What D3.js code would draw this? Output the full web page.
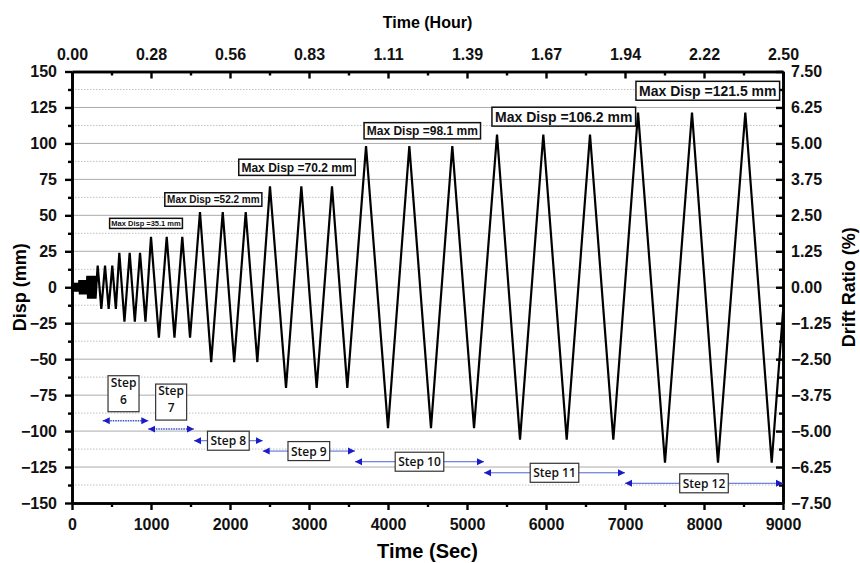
<!DOCTYPE html>
<html>
<head>
<meta charset="utf-8">
<script src="https://cdn.jsdelivr.net/npm/d3@7"></script>
<style>
  body { margin: 0; background: #fff; }
  svg { display: block; }
  .tick text { font-family: "Liberation Sans", Arial, sans-serif; font-weight: bold; font-size: 16px; fill: #111; }
</style>
</head>
<body>
<div id="chart"></div>
<script>
// Vertices of the displacement history (time in s, disp in mm)
const cycleSec = [0, 3, 8, 14, 19, 25, 30, 36, 41, 47, 52, 58, 63, 69, 74, 80, 85,
  93, 100, 107, 114, 121, 128, 135, 142, 149, 156, 163, 170, 177, 184,
  194, 203, 213, 222, 232, 241, 251, 260, 270, 279, 289, 298,
  325, 371, 418, 464, 510, 555,
  599, 664, 730, 795, 861, 930,
  1000, 1100, 1199, 1297, 1396, 1494,
  1620, 1762, 1908, 2053, 2199, 2346,
  2506, 2709, 2903, 3097, 3291, 3485,
  3722, 4000, 4270, 4544, 4814, 5089,
  5380, 5671, 5966, 6262, 6557, 6852,
  7165, 7506, 7848, 8177, 8523, 8857,
  9000];
const cycleDisp = [0, 3, -3, 3, -3, 3, -3, 3, -3, 3, -3, 3, -3, 3, -3, 3, -3,
  5, -5, 5, -5, 5, -5, 5, -5, 5, -5, 5, -5, 5, -5,
  8, -8, 8, -8, 8, -8, 8, -8, 8, -8, 8, -8,
  15, -15, 15, -15, 15, -15,
  24, -24, 24, -24, 24, -24,
  35.1, -35, 35.1, -35, 35.1, -35,
  52.2, -52, 52.2, -52, 52.2, -52,
  70.2, -70, 70.2, -70, 70.2, -70,
  98.1, -98, 98.1, -98, 98.1, -98,
  106.2, -106, 106.2, -106, 106.2, -106,
  121.5, -122, 121.5, -122, 121.5, -122,
  -17];

// Max displacement labels
const maxValues = ["35.1", "52.2", "70.2", "98.1", "106.2", "121.5"];
const maxAtSec = [937, 1789, 2848, 4434, 6225, 8048];
const maxAtDisp = [44.4, 61, 83.4, 108.8, 118.6, 136.6];

// Loading steps
const stepNames = ["6", "7", "8", "9", "10", "11", "12"];
const stepStart = [389, 966, 1544, 2414, 3582, 5215, 7000];
const stepEnd = [966, 1544, 2414, 3582, 5215, 7000, 9000];
const stepLevel = [-92.8, -98.6, -106.7, -113.9, -121.3, -129, -136.3];

// Axis ticks
const secTicks = d3.range(0, 9001, 1000);
const dispTicks = d3.range(-150, 151, 25);
const driftTicks = d3.range(-7.5, 7.51, 1.25);

const width = 860, height = 563;
const margin = {top: 71.5, right: 77, bottom: 60, left: 72};
const plotW = width - margin.left - margin.right;
const plotH = height - margin.top - margin.bottom;

const svg = d3.select("#chart").append("svg")
  .attr("width", width).attr("height", height);

const g = svg.append("g").attr("transform", `translate(${margin.left},${margin.top})`);

const x = d3.scaleLinear().domain([0, 9000]).range([0, plotW]);
const xHour = d3.scaleLinear().domain([0, 2.5]).range([0, plotW]);
const y = d3.scaleLinear().domain([-150, 150]).range([plotH, 0]);
const yDrift = d3.scaleLinear().domain([-7.5, 7.5]).range([plotH, 0]);

// grid lines: solid at major, dotted at minor
g.append("g").selectAll("line.major")
  .data(dispTicks.filter(d => d > -150 && d < 150))
  .join("line")
    .attr("x1", 0).attr("x2", plotW)
    .attr("y1", d => y(d)).attr("y2", d => y(d))
    .attr("stroke", "#ababab").attr("stroke-width", 1);
g.append("g").selectAll("line.minor")
  .data(dispTicks.slice(0, -1).map(d => d + 12.5))
  .join("line")
    .attr("x1", 0).attr("x2", plotW)
    .attr("y1", d => y(d)).attr("y2", d => y(d))
    .attr("stroke", "#c0c0c0").attr("stroke-width", 1)
    .attr("stroke-dasharray", "1.5,1.5");

// axes
function styleAxis(sel){
  sel.select(".domain").attr("stroke", "#000").attr("stroke-width", 2.6);
  sel.selectAll(".tick line").attr("stroke", "#000").attr("stroke-width", 2.4);
}
const minorSec = secTicks.slice(0, -1).map(d => d + 500);
const minorDisp = dispTicks.slice(0, -1).map(d => d + 12.5);
const minorDrift = driftTicks.slice(0, -1).map(d => d + 0.625);

g.append("g").attr("transform", `translate(0,${plotH})`)
  .call(d3.axisBottom(x).tickValues(minorSec).tickSize(4).tickFormat("").tickSizeOuter(0))
  .call(styleAxis);
g.append("g").attr("transform", `translate(0,${plotH})`)
  .call(d3.axisBottom(x).tickValues(secTicks).tickSize(7).tickPadding(9)
    .tickFormat(d3.format("d")).tickSizeOuter(0))
  .call(styleAxis);

g.append("g")
  .call(d3.axisTop(xHour).tickValues(minorSec.map(s => s / 3600)).tickSize(-4).tickFormat("").tickSizeOuter(0))
  .call(styleAxis);
g.append("g")
  .call(d3.axisTop(xHour).tickValues(secTicks.map(s => s / 3600)).tickSize(-7).tickPadding(12)
    .tickFormat(d3.format(".2f")).tickSizeOuter(0))
  .call(styleAxis);

g.append("g")
  .call(d3.axisLeft(y).tickValues(minorDisp).tickSize(4).tickFormat("").tickSizeOuter(0))
  .call(styleAxis);
g.append("g")
  .call(d3.axisLeft(y).tickValues(dispTicks).tickSize(7).tickPadding(8).tickSizeOuter(0))
  .call(styleAxis);

g.append("g").attr("transform", `translate(${plotW},0)`)
  .call(d3.axisRight(yDrift).tickValues(minorDrift).tickSize(-4).tickFormat("").tickSizeOuter(0))
  .call(styleAxis);
g.append("g").attr("transform", `translate(${plotW},0)`)
  .call(d3.axisRight(yDrift).tickValues(driftTicks).tickSize(-7).tickPadding(8)
    .tickFormat(d3.format(".2f")).tickSizeOuter(0))
  .call(styleAxis);

// axis titles
const titleFont = '"Liberation Sans", Arial, sans-serif';
svg.append("text").attr("x", margin.left + plotW / 2).attr("y", 28)
  .attr("text-anchor", "middle").attr("font-family", titleFont).attr("font-weight", "bold")
  .attr("font-size", 16).text("Time (Hour)");
svg.append("text").attr("x", margin.left + plotW / 2).attr("y", 558)
  .attr("text-anchor", "middle").attr("font-family", titleFont).attr("font-weight", "bold")
  .attr("font-size", 20).text("Time (Sec)");
svg.append("text").attr("transform", `translate(26,${margin.top + plotH / 2}) rotate(-90)`)
  .attr("text-anchor", "middle").attr("font-family", titleFont).attr("font-weight", "bold")
  .attr("font-size", 18).text("Disp (mm)");
svg.append("text").attr("transform", `translate(855,${margin.top + plotH / 2}) rotate(-90)`)
  .attr("text-anchor", "middle").attr("font-family", titleFont).attr("font-weight", "bold")
  .attr("font-size", 18).text("Drift Ratio (%)");

// step arrows
const arrowColor = "#1a1ac8";
const defs = svg.append("defs");
defs.append("marker").attr("id", "head").attr("viewBox", "0 0 10 10")
  .attr("refX", 10).attr("refY", 5).attr("markerWidth", 7).attr("markerHeight", 8)
  .attr("markerUnits", "userSpaceOnUse").attr("orient", "auto-start-reverse")
  .append("path").attr("d", "M0,0L10,5L0,10Z").attr("fill", arrowColor);

const stepFont = '"Open Sans", sans-serif';
stepNames.forEach((name, i) => {
  const x1 = x(stepStart[i]), x2 = x(stepEnd[i]), yy = y(stepLevel[i]);
  g.append("line")
    .attr("x1", x1).attr("x2", x2).attr("y1", yy).attr("y2", yy)
    .attr("stroke", i < 2 ? "#3a4fd0" : "#4a64d8").attr("stroke-width", i < 2 ? 1.4 : 1)
    .attr("stroke-dasharray", i < 2 ? "1.5,1" : null)
    .attr("marker-start", "url(#head)").attr("marker-end", "url(#head)");

  const lab = g.append("g");
  if (i < 2) {
    // two-line label above the arrow
    const cx = (x1 + x2) / 2 - (i === 0 ? 2 : 0);
    const t = lab.append("text").attr("text-anchor", "middle")
      .attr("font-family", stepFont).attr("font-weight", 600).attr("font-size", 12).attr("fill", "#111");
    t.append("tspan").attr("x", cx).attr("y", yy - 34).text("Step");
    t.append("tspan").attr("x", cx).attr("y", yy - 17).text(name);
    lab.insert("rect", "text")
      .attr("x", cx - 15.5).attr("y", yy - 45).attr("width", 31).attr("height", 36)
      .attr("fill", "#fff").attr("stroke", "#333").attr("stroke-width", 1.2);
  } else {
    const cx = (x1 + x2) / 2;
    const t = lab.append("text").attr("x", cx).attr("y", yy + 4.5).attr("text-anchor", "middle")
      .attr("font-family", stepFont).attr("font-weight", 600).attr("font-size", 12).attr("fill", "#111")
      .text("Step " + name);
    const w = t.node().getComputedTextLength() + 6;
    lab.insert("rect", "text")
      .attr("x", cx - w / 2).attr("y", yy - 9.5).attr("width", w).attr("height", 19)
      .attr("fill", "#fff").attr("stroke", "#333").attr("stroke-width", 1.2);
  }
});

// max displacement boxes
const maxFontSize = [7.5, 10, 12, 12, 14, 14];
maxValues.forEach((v, i) => {
  const cx = x(maxAtSec[i]), cy = y(maxAtDisp[i]);
  const fs = maxFontSize[i];
  const lab = g.append("g");
  const t = lab.append("text").attr("x", cx).attr("y", cy + fs * 0.36).attr("text-anchor", "middle")
    .attr("font-family", titleFont).attr("font-weight", "bold").attr("font-size", fs).attr("fill", "#111")
    .text("Max Disp =" + v + " mm");
  const w = t.node().getComputedTextLength() + fs * 0.45;
  const h = fs * 1.35;
  lab.insert("rect", "text")
    .attr("x", cx - w / 2).attr("y", cy - h / 2).attr("width", w).attr("height", h)
    .attr("fill", "#fff").attr("stroke", "#111").attr("stroke-width", 1.5);
});

// displacement history
const history = cycleSec.map((s, i) => ({sec: s, disp: cycleDisp[i]}));
const line = d3.line().x(d => x(d.sec)).y(d => y(d.disp));
g.append("path").datum(history)
  .attr("d", line)
  .attr("fill", "none").attr("stroke", "#000").attr("stroke-width", 2.2)
  .attr("stroke-linejoin", "miter");
</script>
</body>
</html>
